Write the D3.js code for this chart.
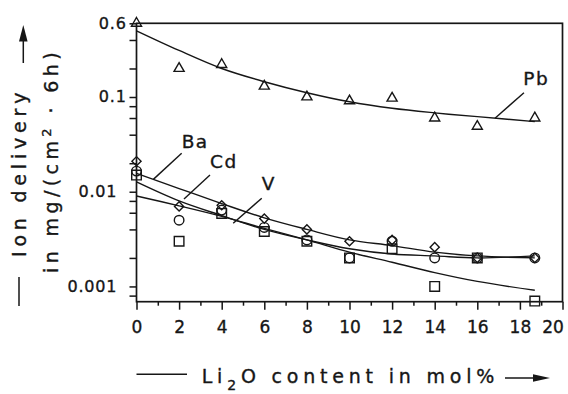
<!DOCTYPE html>
<html>
<head>
<meta charset="utf-8">
<script src="https://cdn.jsdelivr.net/npm/d3@7"></script>
<style>
  html, body { margin: 0; padding: 0; background: #fff; }
  svg { display: block; }
  text { font-family: "DejaVu Sans", sans-serif; fill: #161616; stroke: #161616; stroke-width: 0.35px; }
</style>
</head>
<body>
<svg id="chart" width="568" height="394"></svg>
<script>
// Li2O content (mol%) at which the glasses were measured
const liContent = [0, 2, 4, 6, 8, 10, 12, 14, 16, 18.7];

// Measured ion delivery, mg/(cm^2 * 6h)
const pbMeasured = [0.6, 0.2, 0.22, 0.13, 0.1, 0.091, 0.097, 0.06, 0.049, 0.06];
const baMeasured = [0.021, 0.007, 0.0072, 0.0052, 0.004, 0.003, 0.0031, 0.0026, 0.002, 0.002];
const cdMeasured = [0.0165, 0.005, 0.0064, 0.0042, 0.0031, 0.002, 0.003, 0.002, 0.002, 0.002];
const vMeasured  = [0.015, 0.003, 0.0059, 0.0038, 0.003, 0.002, 0.0025, 0.001, 0.002, 0.0007];

// Fitted trend curves, read at the same Li2O contents
const pbFit = [0.50, 0.31, 0.20, 0.145, 0.111, 0.089, 0.076, 0.068, 0.062, 0.055];
const baFit = [0.0156, 0.0108, 0.0075, 0.0053, 0.0040, 0.0031, 0.0027, 0.0023, 0.0021, 0.0020];
const cdFit = [0.0127, 0.0080, 0.0056, 0.0040, 0.0031, 0.0025, 0.0022, 0.0021, 0.0020, 0.0021];
const vFit  = [0.0090, 0.0071, 0.0055, 0.0041, 0.0031, 0.0023, 0.0018, 0.0014, 0.00113, 0.00091];

// Axis ticks
const xMajorTicks = [0, 2, 4, 6, 8, 10, 12, 14, 16, 18, 20];
const xMinorTicks = [1, 3, 5, 7, 9, 11, 13, 15, 17, 19];
const yTicks = [0.0008, 0.001, 0.002, 0.004, 0.006, 0.008, 0.01, 0.02, 0.04, 0.06, 0.08, 0.1, 0.2, 0.4, 0.6];
const yLabelValues = [0.001, 0.01, 0.1, 0.6];
const yLabelTexts = ["0.001", "0.01", "0.1", "0.6"];

// Curve labels: name, label position and leader line (data units)
const seriesNames = ["Pb", "Ba", "Cd", "V"];
const labelAt   = [[18.16, 0.134], [2.12, 0.0287], [3.45, 0.0177], [5.88, 0.0104]];
const leaderFrom = [[18.19, 0.111], [2.12, 0.0255], [3.45, 0.0150], [5.88, 0.00853]];
const leaderTo   = [[16.83, 0.0596], [0.79, 0.0135], [2.23, 0.00838], [4.54, 0.00465]];

const ink = "#161616";
const svg = d3.select("#chart");

const x = d3.scaleLinear().domain([0, 20]).range([136.5, 562.5]);
const y = d3.scaleLog().domain([0.00069, 0.6]).range([301.7, 23.3]);
const [x0, x1] = x.range();
const [yb, yt] = y.range();

// Ticks
const xMinorAxis = svg.append("g").attr("transform", `translate(0,${yb})`)
  .call(d3.axisBottom(x).tickValues(xMinorTicks).tickSize(4).tickFormat(""));
const xMajorAxis = svg.append("g").attr("transform", `translate(0,${yb})`)
  .call(d3.axisBottom(x).tickValues(xMajorTicks).tickSize(8).tickPadding(11).tickFormat(d3.format("d")));
const yAxis = svg.append("g").attr("transform", `translate(${x0},0)`)
  .call(d3.axisLeft(y).tickValues(yTicks).tickSize(7).tickFormat(""));

[xMinorAxis, xMajorAxis, yAxis].forEach(a => {
  a.select(".domain").remove();
  a.selectAll(".tick line").attr("stroke", ink).attr("stroke-width", 1.5);
});
xMajorAxis.selectAll(".tick text")
  .attr("fill", ink).style("font-size", "17px")
  .style("font-family", "DejaVu Sans, sans-serif")
  .attr("dx", d => d === 20 ? -10 : 0);

// Y tick labels
svg.append("g").selectAll("text")
  .data(yLabelValues)
  .join("text")
  .attr("x", d => x0 - (d < 0.05 ? 19.2 : 9.8))
  .attr("y", d => y(d))
  .attr("dy", "0.33em")
  .attr("text-anchor", "end")
  .style("font-size", "16px")
  .style("letter-spacing", "0.8px")
  .text((d, i) => yLabelTexts[i]);

// Plot frame
svg.append("rect")
  .attr("x", x0).attr("y", yt)
  .attr("width", x1 - x0).attr("height", yb - yt)
  .attr("fill", "none").attr("stroke", ink).attr("stroke-width", 1.7);

// Fitted curves
const line = d3.line()
  .x((d, i) => x(liContent[i]))
  .y(d => y(d))
  .curve(d3.curveCatmullRom.alpha(0.5));

svg.append("g")
  .selectAll("path")
  .data([pbFit, baFit, cdFit, vFit])
  .join("path")
  .attr("d", line)
  .attr("fill", "none")
  .attr("stroke", ink)
  .attr("stroke-width", 1.4);

// Measured points
function drawPoints(values, symbolType, size, rotate) {
  svg.append("g")
    .selectAll("path")
    .data(values)
    .join("path")
    .attr("transform", (d, i) => `translate(${x(liContent[i])},${y(d)}) rotate(${rotate})`)
    .attr("d", d3.symbol().type(symbolType).size(size))
    .attr("fill", "none")
    .attr("stroke", ink)
    .attr("stroke-width", 1.4);
}
drawPoints(pbMeasured, d3.symbolTriangle, 44, 0);
drawPoints(baMeasured, d3.symbolSquare, 42, 45);
drawPoints(cdMeasured, d3.symbolCircle, 72, 0);
drawPoints(vMeasured, d3.symbolSquare, 92, 0);

// Curve labels with leader lines
const ann = svg.append("g");
seriesNames.forEach((name, i) => {
  ann.append("line")
    .attr("x1", x(leaderFrom[i][0])).attr("y1", y(leaderFrom[i][1]))
    .attr("x2", x(leaderTo[i][0])).attr("y2", y(leaderTo[i][1]))
    .attr("stroke", ink).attr("stroke-width", 1.4);
  ann.append("text")
    .attr("x", x(labelAt[i][0])).attr("y", y(labelAt[i][1]))
    .style("font-size", "18.5px")
    .style("letter-spacing", "1.5px")
    .text(name);
});

// X axis title
const titleSize = "19px";
const titleSpacing = "4.8px";
svg.append("line").attr("x1", x0).attr("x2", 187).attr("y1", 374.3).attr("y2", 374.3)
  .attr("stroke", ink).attr("stroke-width", 1.5);
const xt = svg.append("text").attr("x", 201.7).attr("y", 383.3)
  .style("font-size", titleSize).style("letter-spacing", titleSpacing);
xt.append("tspan").text("Li");
xt.append("tspan").attr("dy", 7).style("font-size", "14px").text("2");
xt.append("tspan").attr("dy", -7).text("O content in mol%");
svg.append("line").attr("x1", 505).attr("x2", 536).attr("y1", 378).attr("y2", 378)
  .attr("stroke", ink).attr("stroke-width", 1.5);
svg.append("path").attr("d", "M550,378 L533,374.3 L533,381.7 Z").attr("fill", ink);

// Y axis title, first line
svg.append("line").attr("x1", 19).attr("x2", 19).attr("y1", 277).attr("y2", 306)
  .attr("stroke", ink).attr("stroke-width", 1.5);
svg.append("text").attr("transform", "translate(26,257) rotate(-90)")
  .style("font-size", titleSize).style("letter-spacing", titleSpacing)
  .text("Ion delivery");
svg.append("line").attr("x1", 23.3).attr("x2", 23.3).attr("y1", 63).attr("y2", 40)
  .attr("stroke", ink).attr("stroke-width", 1.5);
svg.append("path").attr("d", "M23.3,25 L19,41.5 L27.6,41.5 Z").attr("fill", ink);

// Y axis title, second line
const yt2 = svg.append("text").attr("transform", "translate(58,273) rotate(-90)")
  .style("font-size", titleSize).style("letter-spacing", "4.4px");
yt2.append("tspan").text("in mg/(cm");
yt2.append("tspan").attr("dy", -7).style("font-size", "13px").text("2");
yt2.append("tspan").attr("dy", 7).text(" · 6h)");
</script>
</body>
</html>
